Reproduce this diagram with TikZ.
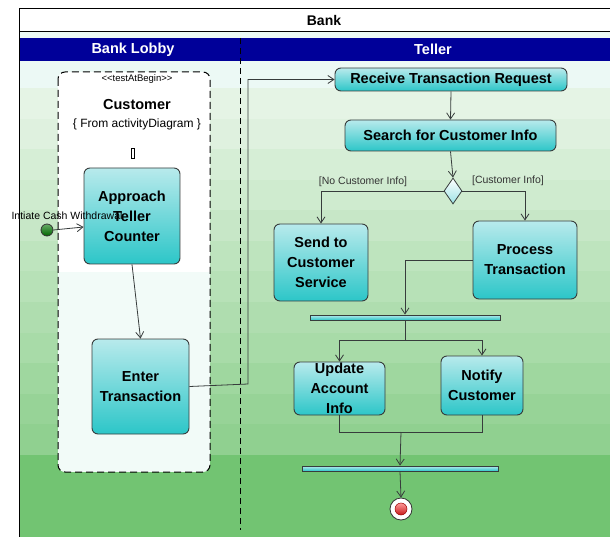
\documentclass[tikz,border=0pt]{standalone}
\usepackage{fontspec}
\setmainfont{Liberation Sans}
\usetikzlibrary{arrows.meta,shapes.geometric}
\definecolor{lanegreen}{RGB}{114,196,114}
\definecolor{lanepale}{RGB}{236,249,245}
\definecolor{headblue}{RGB}{0,0,153}
\definecolor{acttop}{RGB}{184,234,236}
\definecolor{actbot}{RGB}{44,198,200}
\definecolor{edgegray}{RGB}{55,60,60}
\tikzset{
  action/.style={draw=edgegray,line width=0.9pt,rounded corners=6pt,top color=acttop,bottom color=actbot,
    inner sep=0pt,align=center,font=\fontsize{14.5}{20}\selectfont\bfseries},
  syncbar/.style={draw=edgegray,line width=0.8pt,top color=acttop,bottom color=actbot,inner sep=0pt,minimum height=5pt},
  flow/.style={draw=edgegray,line width=0.8pt,-{Straight Barb[length=6pt,width=8pt]}},
  guard/.style={font=\fontsize{10.5}{11}\selectfont,text=black!80}
}
\begin{document}
\begin{tikzpicture}[x=1pt,y=-1pt]
\useasboundingbox (0,0) rectangle (610,537);
% swimlane background
\fill[lanepale] (20,31) rectangle (610,38);
\fill[lanepale] (20,61) rectangle (610,88);
\foreach \i in {0,...,11}{
  \pgfmathtruncatemacro{\shade}{18+\i*5.6}
  \fill[lanegreen!\shade!white] (20,{88+\i*30.58}) rectangle (610,{88+(\i+1)*30.58+0.3});
}
\fill[lanegreen] (20,455) rectangle (610,537);
\fill[headblue] (20,38) rectangle (610,61);
\draw[line width=0.8pt] (19,537) -- (19,8) -- (610,8);
\draw[line width=0.8pt] (19,31) -- (610,31);
\node[font=\fontsize{14}{15}\selectfont\bfseries] (bank) at (324,20) {Bank};
\node[font=\fontsize{14.5}{15}\selectfont\bfseries,text=white] (lobby) at (133,49.5) {Bank Lobby};
\node[font=\fontsize{14.5}{15}\selectfont\bfseries,text=white] (teller) at (433,49.5) {Teller};
\draw[dashed,dash pattern=on 6pt off 4pt,line width=0.9pt] (240,38) -- (240,530);
% customer partition
\begin{scope}
  \clip[rounded corners=7pt] (58,72) rectangle (210,472);
  \fill[white] (58,72) rectangle (210,272);
  \fill[lanepale!70!white] (58,272) rectangle (210,472);
\end{scope}
\draw[black,dash pattern=on 7pt off 4pt,line width=1pt,rounded corners=7pt] (58,72) rectangle (210,472);
\node[font=\fontsize{9.5}{10}\selectfont] (stereo) at (137,79) {{<}{<}testAtBegin{>}{>}};
\node[font=\fontsize{14.5}{15}\selectfont\bfseries] (cust) at (137,105) {Customer};
\node[font=\fontsize{12}{13}\selectfont] (from) at (137,124) {\{ From activityDiagram \}};
\draw[line width=0.8pt,fill=white] (131.5,148) rectangle (134.5,158);
% actions
\node[action,minimum width=96pt,minimum height=96pt] (approach) at (132,216) {Approach\\Teller\\Counter};
\node[action,minimum width=97pt,minimum height=95pt] (enter) at (140.5,386.5) {Enter\\Transaction};
\node[action,minimum width=232pt,minimum height=23pt] (receive) at (451,79.5) {Receive Transaction Request};
\node[action,minimum width=211pt,minimum height=31pt] (search) at (450.5,135.5) {Search for Customer Info};
\node[action,minimum width=94pt,minimum height=77pt] (send) at (321,262.5) {Send to\\Customer\\Service};
\node[action,minimum width=104pt,minimum height=78pt] (process) at (525,260) {Process\\Transaction};
\node[action,minimum width=91pt,minimum height=53pt] (update) at (339.5,388.5) {Update\\Account\\Info};
\node[action,minimum width=82pt,minimum height=59pt] (notify) at (482,385.5) {Notify\\Customer};
\node[syncbar,minimum width=190pt] (fork) at (405,317.5) {};
\node[syncbar,minimum width=196pt] (join) at (400,468.5) {};
\node[diamond,draw=edgegray,line width=0.8pt,top color=white,bottom color=acttop!80!actbot,
  inner sep=0pt,minimum width=18pt,minimum height=26pt] (dec) at (453,191) {};
\node[circle,draw=black!80,line width=0.8pt,top color=green!45!black!60!white,bottom color=green!40!black,
  inner sep=0pt,minimum size=12pt] (init) at (47,230) {};
\node[font=\fontsize{10.5}{11}\selectfont] (initlbl) at (67,216) {Intiate Cash Withdrawal};
\node[circle,draw=black!80,line width=0.8pt,fill=white,inner sep=0pt,minimum size=22pt] (final) at (401,509) {};
\node[circle,draw=red!60!black,line width=0.5pt,top color=red!40!white,bottom color=red!75!black!90,
  inner sep=0pt,minimum size=12pt] (finaldot) at (final.center) {};
% flows
\coordinate (up) at (248,384);
\coordinate (split) at (405,340);
\coordinate (merge) at (401,432);
\draw[flow] (init.east) -- (approach.west |- 0,227);
\draw[flow] (approach.south) -- (enter.north);
\draw[flow] (enter.east) -- (up) |- (receive.west);
\draw[flow] (receive.south) -- (search.north);
\draw[flow] (search.south) -- (dec.north);
\draw[flow] (dec.west) -| (send.north);
\draw[flow] (dec.east) -| (process.north);
\node[guard] (noinfo) at (363,182) {[No Customer Info]};
\node[guard] (info) at (508,181) {[Customer Info]};
\draw[flow] (process.west) -| (fork.north);
\draw[flow] (fork.south) -- (split) -| (update.north);
\draw[flow] (split) -| (notify.north);
\draw[draw=edgegray,line width=0.8pt] (update.south) |- (merge);
\draw[draw=edgegray,line width=0.8pt] (notify.south) |- (merge);
\draw[flow] (merge) -- (join.north);
\draw[flow] (join.south) -- (final.north);
\end{tikzpicture}
\end{document}
